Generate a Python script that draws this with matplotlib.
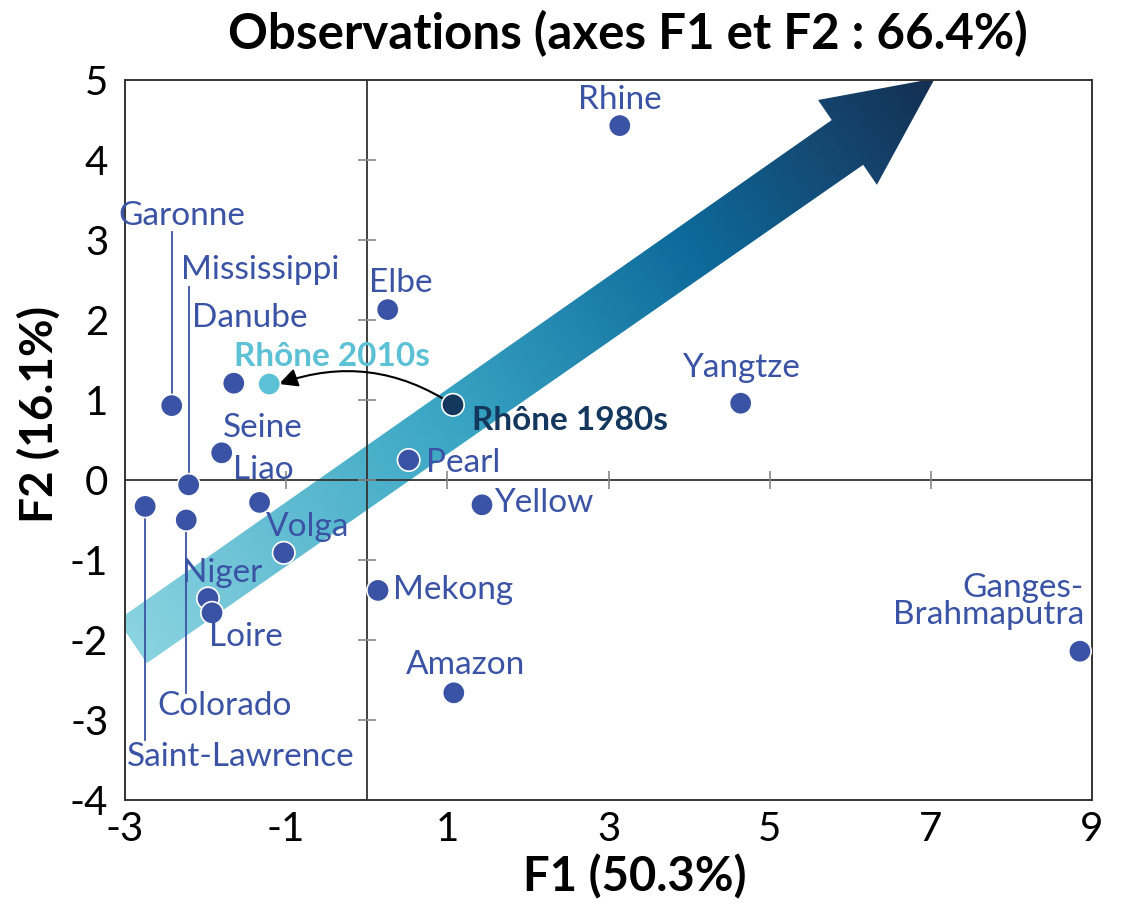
import matplotlib
matplotlib.use("Agg")
import numpy as np
import matplotlib.pyplot as plt
from matplotlib.patches import Polygon, FancyArrowPatch
from matplotlib.colors import LinearSegmentedColormap

plt.rcParams["font.family"] = ["Lato", "DejaVu Sans"]

# PCA scores of the rivers on F1 / F2
rivers = ["Rhine", "Elbe", "Yangtze", "Rhône 1980s", "Rhône 2010s", "Pearl", "Yellow",
          "Mekong", "Amazon", "Ganges-\nBrahmaputra", "Garonne", "Mississippi", "Danube",
          "Seine", "Liao", "Saint-Lawrence", "Colorado", "Volga", "Niger", "Loire"]
f1 = [3.14, 0.26, 4.64, 1.07, -1.21, 0.52, 1.43, 0.14, 1.08, 8.85, -2.42, -2.21, -1.65,
      -1.80, -1.33, -2.75, -2.24, -1.03, -1.97, -1.92]
f2 = [4.43, 2.13, 0.96, 0.94, 1.20, 0.25, -0.31, -1.38, -2.66, -2.14, 0.93, -0.06, 1.21,
      0.34, -0.28, -0.33, -0.50, -0.91, -1.48, -1.66]

# label anchors (x, y, ha)
label_pos = {
    "Rhine": (3.14, 4.75, "center"), "Elbe": (0.42, 2.46, "center"),
    "Yangtze": (4.64, 1.40, "center"), "Rhône 1980s": (1.30, 0.75, "left"),
    "Rhône 2010s": (-1.65, 1.54, "left"), "Pearl": (0.74, 0.21, "left"),
    "Yellow": (1.58, -0.29, "left"), "Mekong": (0.32, -1.38, "left"),
    "Amazon": (1.22, -2.31, "center"), "Ganges-\nBrahmaputra": (8.90, -1.52, "right"),
    "Garonne": (-2.30, 3.30, "center"), "Mississippi": (-2.30, 2.63, "left"),
    "Danube": (-1.45, 2.03, "center"), "Seine": (-1.29, 0.65, "center"),
    "Liao": (-1.28, 0.12, "center"), "Saint-Lawrence": (-1.56, -3.46, "center"),
    "Colorado": (-1.76, -2.83, "center"), "Volga": (-0.74, -0.59, "center"),
    "Niger": (-1.80, -1.16, "center"), "Loire": (-1.50, -1.96, "center"),
}
# leader lines: river -> y end of the vertical line
leaders = {"Garonne": 3.10, "Mississippi": 2.41, "Saint-Lawrence": -3.25, "Colorado": -2.66}

blue = "#3a53a4"
navy = "#14375e"
cyan = "#5cc1d4"
point_col = {"Rhône 1980s": navy, "Rhône 2010s": cyan}
text_col = {"Rhône 1980s": navy, "Rhône 2010s": cyan}

# big trend arrow outline
arrow_xy = [(-2.73, -2.29), (-3.09, -1.75), (5.77, 4.50), (5.60, 4.75), (7.05, 5.02),
            (6.33, 3.69), (6.16, 3.94)]

fig = plt.figure(figsize=(11.22, 9.05), dpi=100)
ax = fig.add_axes([0.1114, 0.116, 0.8619, 0.7956])
ax.set_xlim(-3, 9)
ax.set_ylim(-4, 5)

# gradient-filled arrow
cmap = LinearSegmentedColormap.from_list(
    "trend", [(0, "#8ad3e0"), (0.39, "#3aa6c4"), (0.7, "#0d6a9b"), (0.88, "#15466f"), (1, "#132f52")])
gx, gy = np.meshgrid(np.linspace(-3.2, 7.2, 400), np.linspace(-2.4, 5.1, 300))
t0 = np.array([-2.91, -2.02])
d = np.array([7.05, 5.0]) - t0
proj = ((gx - t0[0]) * d[0] + (gy - t0[1]) * d[1]) / (d @ d)
poly = Polygon(arrow_xy, closed=True, facecolor="none", edgecolor="none")
ax.add_patch(poly)
im = ax.imshow(np.clip(proj, 0, 1), extent=(-3.2, 7.2, -2.4, 5.1), origin="lower",
               cmap=cmap, vmin=0, vmax=1, aspect="auto", zorder=1)
im.set_clip_path(poly)

# centre axes with small cross ticks
ax.axhline(0, color="#333333", lw=1.3, zorder=2)
ax.axvline(0, color="#333333", lw=1.3, zorder=2)
yt = np.arange(-4, 6)
ax.scatter(np.zeros(len(yt) - 2), yt[1:-1], marker="_", s=150, color="#888888", lw=1.2, zorder=2)
xt = np.arange(-3, 10, 2)
ax.scatter(xt[1:-1], np.zeros(len(xt) - 2), marker="|", s=150, color="#888888", lw=1.2, zorder=2)

for name, y_end in leaders.items():
    i = rivers.index(name)
    ax.plot([f1[i], f1[i]], [f2[i], y_end], color=blue, lw=1.3, zorder=2)

ax.scatter(f1, f2, s=260, c=[point_col.get(r, blue) for r in rivers],
           edgecolors="white", linewidths=1.2, zorder=4, clip_on=False)

for r in rivers:
    x, y, ha = label_pos[r]
    bold = r.startswith("Rhône")
    ax.text(x, y, r, ha=ha, va="center", fontsize=24, color=text_col.get(r, blue),
            fontweight="bold" if bold else "normal", linespacing=0.9, zorder=5)

# Rhône shift between decades
i80, i10 = rivers.index("Rhône 1980s"), rivers.index("Rhône 2010s")
ax.add_patch(FancyArrowPatch((f1[i80], f2[i80]), (f1[i10] + 0.12, f2[i10]),
                             connectionstyle="arc3,rad=0.25", arrowstyle="-|>",
                             mutation_scale=28, color="black", lw=1.5, zorder=3,
                             shrinkA=0, shrinkB=0))

for s in ax.spines.values():
    s.set_color("#333333")
    s.set_linewidth(1.4)
ax.set_xticks(xt)
ax.set_yticks(yt)
ax.tick_params(length=0, labelsize=29, pad=12)
ax.tick_params(axis="x", pad=8)
ax.set_xticklabels([str(v) for v in xt])
ax.set_yticklabels([str(v) for v in yt])
ax.set_xlabel("F1 (50.3%)", fontsize=34, fontweight="bold")
ax.set_ylabel("F2 (16.1%)", fontsize=33, fontweight="bold")
ax.xaxis.set_label_coords(0.527, -0.075)
ax.yaxis.set_label_coords(-0.066, 0.536)
fig.text(0.56, 0.963, "Observations (axes F1 et F2 : 66.4%)", ha="center", va="center",
         fontsize=35.5, fontweight="bold")

fig.savefig("out.png", dpi=100)
